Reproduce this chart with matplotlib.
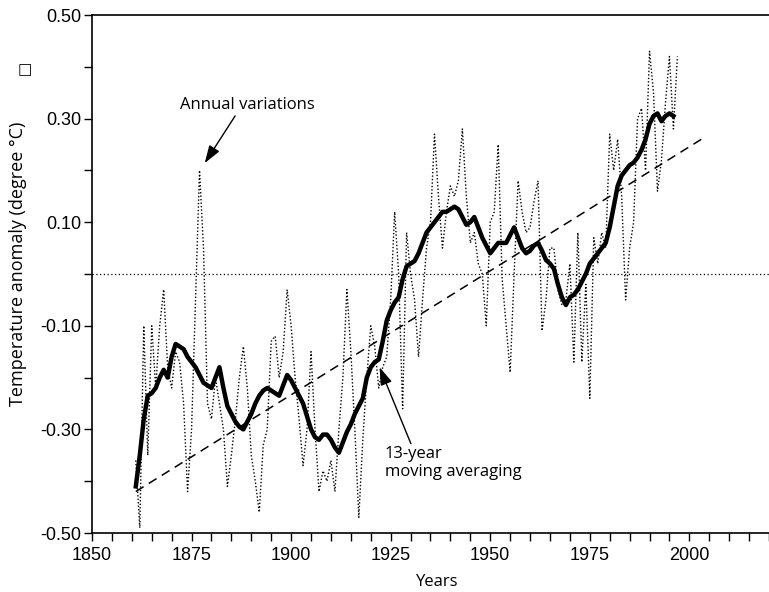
import matplotlib
matplotlib.use("Agg")
import matplotlib.pyplot as plt
from matplotlib.ticker import MultipleLocator, FixedLocator

# annual global temperature anomaly, 1861-1997
annual_years = list(range(1861, 1998))
annual_values = [
    -0.36, -0.49, -0.10, -0.35, -0.10, -0.22, -0.10, -0.03, -0.18, -0.22,
    -0.15, -0.17, -0.25, -0.42, -0.30, -0.05, 0.20, 0.05, -0.25, -0.28,
    -0.20, -0.25, -0.30, -0.41, -0.35, -0.28, -0.20, -0.14, -0.22, -0.35,
    -0.40, -0.46, -0.33, -0.30, -0.13, -0.12, -0.20, -0.15, -0.03, -0.10,
    -0.20, -0.28, -0.37, -0.30, -0.15, -0.30, -0.42, -0.38, -0.40, -0.36,
    -0.42, -0.30, -0.20, -0.03, -0.15, -0.30, -0.47, -0.32, -0.20, -0.10,
    -0.14, -0.22, -0.18, -0.16, -0.05, 0.12, 0.00, -0.26, 0.08, 0.00,
    -0.05, -0.16, -0.05, 0.05, 0.10, 0.27, 0.15, 0.05, 0.12, 0.17,
    0.15, 0.18, 0.28, 0.15, 0.06, 0.08, 0.02, 0.00, -0.10, 0.10,
    0.12, 0.25, -0.01, -0.10, -0.19, 0.00, 0.18, 0.12, 0.08, 0.09,
    0.14, 0.18, -0.11, -0.05, 0.05, 0.05, -0.03, -0.06, -0.05, 0.02,
    -0.17, 0.08, -0.17, -0.02, -0.24, 0.07, 0.02, 0.08, 0.05, 0.27,
    0.20, 0.26, 0.15, -0.05, 0.05, 0.10, 0.30, 0.32, 0.20, 0.43,
    0.35, 0.16, 0.22, 0.33, 0.42, 0.28, 0.42,
]

# 13-year moving average, 1861-1996
ma_years = list(range(1861, 1997))
ma_values = [
    -0.41, -0.35, -0.28, -0.235, -0.23, -0.22, -0.20, -0.185, -0.20, -0.16,
    -0.135, -0.14, -0.145, -0.16, -0.17, -0.18, -0.195, -0.21, -0.215, -0.22,
    -0.20, -0.18, -0.22, -0.255, -0.27, -0.285, -0.295, -0.30, -0.285, -0.27,
    -0.25, -0.235, -0.225, -0.22, -0.225, -0.23, -0.235, -0.215, -0.195, -0.205,
    -0.22, -0.235, -0.25, -0.275, -0.30, -0.315, -0.32, -0.31, -0.31, -0.32,
    -0.335, -0.345, -0.325, -0.305, -0.29, -0.27, -0.255, -0.24, -0.20, -0.18,
    -0.17, -0.165, -0.13, -0.09, -0.07, -0.055, -0.045, -0.01, 0.015, 0.02,
    0.025, 0.04, 0.06, 0.08, 0.09, 0.10, 0.11, 0.12, 0.12, 0.125,
    0.13, 0.125, 0.11, 0.095, 0.10, 0.11, 0.09, 0.07, 0.055, 0.04,
    0.05, 0.06, 0.06, 0.06, 0.075, 0.09, 0.07, 0.05, 0.04, 0.045,
    0.055, 0.06, 0.045, 0.027, 0.02, 0.01, -0.02, -0.045, -0.06, -0.045,
    -0.04, -0.03, -0.015, 0.0, 0.02, 0.03, 0.04, 0.05, 0.06, 0.09,
    0.13, 0.17, 0.19, 0.20, 0.21, 0.215, 0.225, 0.24, 0.26, 0.29,
    0.305, 0.31, 0.295, 0.305, 0.31, 0.305,
]

# linear trend end points
trend_years = [1861, 2003]
trend_values = [-0.42, 0.26]

label_font = "Open Sans"
tick_font = "Liberation Sans"

fig = plt.figure(figsize=(7.69, 5.92), dpi=100)
ax = fig.add_axes([92 / 769, 59 / 592, 677 / 769, 518 / 592])

ax.axhline(0.0, color="black", linestyle=(0, (1, 2)), linewidth=0.9)
ax.plot(annual_years, annual_values, color="black", linestyle=(0, (1, 1.5)), linewidth=1.0)
ax.plot(trend_years, trend_values, color="black", linestyle=(0, (6, 4)), linewidth=1.1)
ax.plot(ma_years, ma_values, color="black", linewidth=3.2, solid_joinstyle="round")

ax.set_xlim(1850, 2020)
ax.set_ylim(-0.5, 0.5)

ax.xaxis.set_major_locator(MultipleLocator(25))
ax.xaxis.set_minor_locator(MultipleLocator(5))
ax.yaxis.set_major_locator(FixedLocator([-0.5, -0.3, -0.1, 0.1, 0.3, 0.5]))
ax.yaxis.set_minor_locator(FixedLocator([-0.4, -0.2, 0.0, 0.2, 0.4]))
ax.set_xticks([1850, 1875, 1900, 1925, 1950, 1975, 2000])
ax.set_xticklabels(["1850", "1875", "1900", "1925", "1950", "1975", "2000"])
ax.set_yticklabels(["-0.50", "-0.30", "-0.10", "0.10", "0.30", "0.50"])
ax.tick_params(which="both", direction="out", length=6, width=1.0)
ax.tick_params(axis="x", pad=4)
ax.tick_params(axis="y", pad=2)
for lab in ax.get_xticklabels() + ax.get_yticklabels():
    lab.set_fontfamily(tick_font)
    lab.set_fontsize(13)

for side in ["left", "bottom", "top"]:
    ax.spines[side].set_linewidth(1.2)
ax.spines["right"].set_visible(False)

ax.set_xlabel("Years", fontfamily=label_font, fontsize=12, va="center")
ax.xaxis.set_label_coords(0.51, -0.0946)
ax.set_ylabel("Temperature anomaly (degree °C)", fontfamily=label_font, fontsize=13)
ax.yaxis.set_label_coords(-0.096, 0.52)

fig.text(25 / 769, 1 - 70 / 592, "□", fontsize=11, ha="center", va="center")

arrow = dict(arrowstyle="-|>,head_length=0.9,head_width=0.3", color="black", linewidth=1.0,
             shrinkA=0, shrinkB=0)
ax.annotate("Annual variations", xy=(1878.3, 0.214), xytext=(1889.1, 0.326),
            ha="center", va="center", fontfamily=label_font, fontsize=12,
            arrowprops=dict(arrow, relpos=(0.42, 0.0)))
ax.annotate("13-year\nmoving averaging", xy=(1922.2, -0.18), xytext=(1923.5, -0.365),
            ha="left", va="center", fontfamily=label_font, fontsize=12, linespacing=1.1,
            arrowprops=dict(arrow, relpos=(0.2, 1.0)))

fig.savefig("out.png", dpi=100)
plt.close(fig)
